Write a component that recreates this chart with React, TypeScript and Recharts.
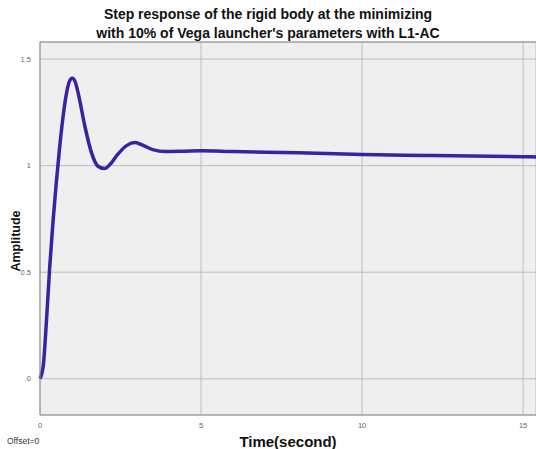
import React from 'react'
import { LineChart, Line, XAxis, YAxis, CartesianGrid, ReferenceLine } from 'recharts'

// step response samples
const time = [0, 0.1, 0.2, 0.3, 0.4, 0.5, 0.6, 0.7, 0.8, 0.9, 1.0, 1.1, 1.2, 1.4, 1.6, 1.8, 2.0, 2.2, 2.4, 2.7, 2.95, 3.2, 3.5, 3.9, 4.5, 5, 6, 8, 10, 12, 15, 15.4]
const amplitude = [0, 0.06, 0.27, 0.52, 0.73, 0.91, 1.07, 1.21, 1.32, 1.39, 1.41, 1.39, 1.33, 1.18, 1.06, 0.997, 0.986, 1.01, 1.05, 1.095, 1.108, 1.095, 1.075, 1.066, 1.068, 1.07, 1.066, 1.06, 1.052, 1.048, 1.042, 1.041]

const xTicks = [0, 5, 10, 15]
const yTicks = [0, 0.5, 1, 1.5]

const titleLines = ['Step response of the rigid body at the minimizing', "with 10% of Vega launcher's parameters with L1-AC"]

const data = time.map((t, i) => ({ t, y: amplitude[i] }))

const font = '"Liberation Sans", Arial, sans-serif'

export default function App() {
    return (
        <div style={{ position: 'relative', width: 536, height: 449, background: '#fff', fontFamily: font }}>
            <style>{'body{margin:0}'}</style>
            <div style={{ position: 'absolute', left: 0, top: 5, width: 536, textAlign: 'center', fontWeight: 'bold', fontSize: 14, lineHeight: '19px', color: '#111' }}>
                {titleLines.map((l) => <div key={l}>{l}</div>)}
            </div>
            <LineChart width={536} height={449} data={data} margin={{ top: 42, right: 0, bottom: 0, left: 0 }}>
                <CartesianGrid stroke="#bdbdbd" fill="#efefef" strokeWidth={1} />
                <XAxis
                    type="number"
                    dataKey="t"
                    domain={[0, 15.4]}
                    ticks={xTicks}
                    height={34}
                    stroke="#8f8f8f"
                    tickLine={false}
                    tick={{ fontSize: 7.5, fill: '#666', fontFamily: font }}
                    tickMargin={2}
                    label={{ value: 'Time(second)', position: 'insideBottom', offset: 2, fontSize: 15, fontWeight: 'bold', fill: '#111', fontFamily: font }}
                />
                <YAxis
                    type="number"
                    domain={[-0.17, 1.58]}
                    ticks={yTicks}
                    width={40}
                    stroke="#8f8f8f"
                    tickLine={false}
                    tick={{ fontSize: 7.5, fill: '#666', fontFamily: font }}
                    tickMargin={3}
                />
                <ReferenceLine y={1.58} stroke="#8f8f8f" />
                <Line type="monotone" dataKey="y" stroke="#3c21a3" strokeWidth={3.5} dot={false} isAnimationActive={false} />
            </LineChart>
            <div style={{ position: 'absolute', left: 16, top: 241, width: 0, height: 0 }}>
                <div style={{ position: 'absolute', left: -50, top: -8, width: 100, textAlign: 'center', fontSize: 12.5, lineHeight: '16px', fontWeight: 'bold', color: '#111', transform: 'rotate(-90deg)' }}>Amplitude</div>
            </div>
            <div style={{ position: 'absolute', left: 7, top: 436, fontSize: 8.5, color: '#333' }}>Offset=0</div>
        </div>
    )
}
